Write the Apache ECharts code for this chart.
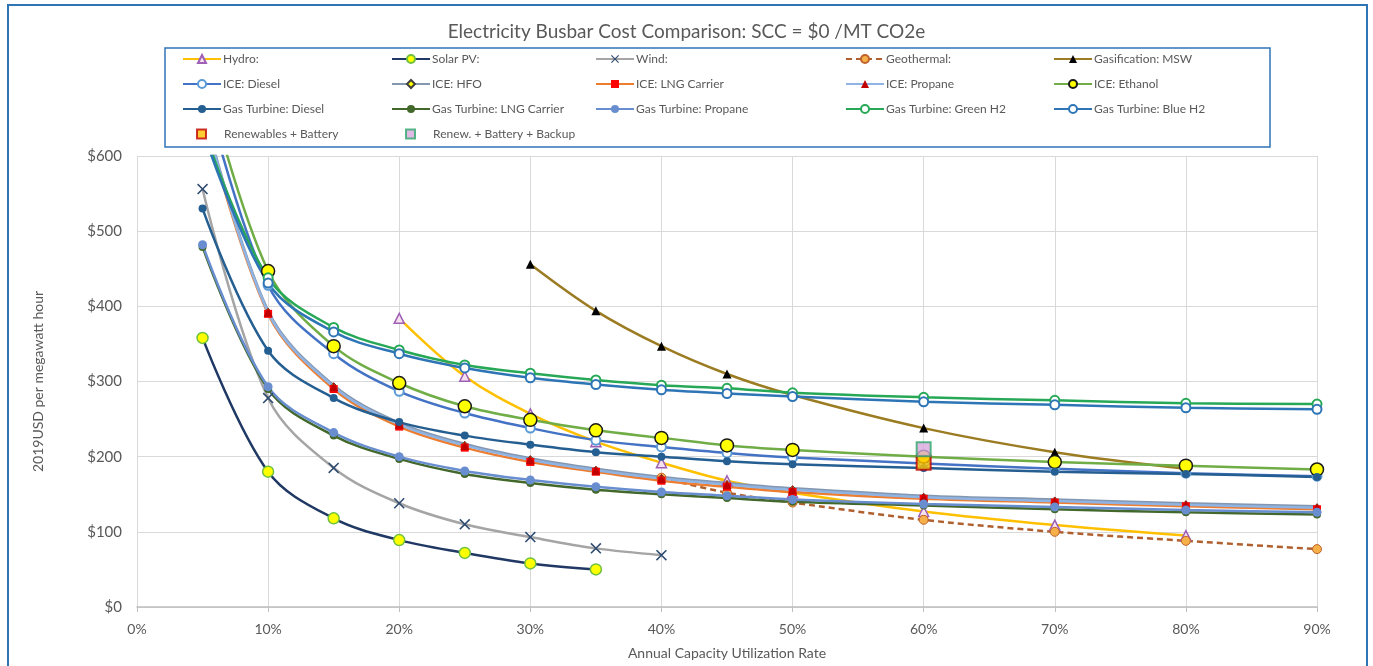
<!DOCTYPE html>
<html><head><meta charset="utf-8">
<script src="https://cdn.jsdelivr.net/npm/echarts@6/dist/echarts.min.js"></script>
<style>html,body{margin:0;padding:0;background:#fff}#c{width:1373px;height:666px}</style>
</head><body><div id="c"></div>
<script>
const xVals = [5,10,15,20,25,30,35,40,45,50,60,70,80,90];
const yTicks = [0,100,200,300,400,500,600];
const hydro       = [null,null,null,384,307,257,220,192,168,152,127,109,95,null];
const solarPV     = [358,180,118,89,72,58,50,null,null,null,null,null,null,null];
const wind        = [556,278,185,138,110,93,78,69,null,null,null,null,null,null];
const geothermal  = [null,null,null,null,null,null,null,172,152,139,116,100,88,77];
const gasifMSW    = [null,null,null,null,null,456,394,347,310,282,238,206,184,null];
const iceDiesel   = [700,428,337,287,258,238,222,213,205,199,191,184,178,174];
const iceHFO      = [668,394,295,245,217,198,184,173,165,158,148,143,138,134];
const iceLNG      = [660,390,290,240,212,193,180,168,160,153,144,139,134,130];
const icePropane  = [665,392,293,243,215,196,182,171,163,156,146,141,136,132];
const iceEthanol  = [720,447,347,298,267,249,235,225,215,209,200,193,188,183];
const gtDiesel    = [530,341,278,246,228,216,206,200,194,190,185,180,177,173];
const gtLNG       = [479,290,228,197,177,165,156,150,145,140,135,130,126,123];
const gtPropane   = [482,293,232,200,181,169,160,153,148,143,137,133,129,126];
const gtGreenH2   = [640,438,372,342,322,311,302,295,291,285,279,275,271,270];
const gtBlueH2    = [635,431,366,337,318,305,296,289,284,280,273,269,265,263];
const renewBattX = [60], renewBattY = [192];
const renewBackX = [60], renewBackY = [210];

const FONT = 'Lato';
const TXT = '#595959';
const X_SYM = 'path://M1,0 L5,4 L9,0 L10,1 L6,5 L10,9 L9,10 L5,6 L1,10 L0,9 L4,5 L0,1 Z';
const SQ = 'path://M0,0 L10,0 L10,10 L0,10 Z';

function pts(vals){ return xVals.map((x,i)=> vals[i]==null ? null : [x, vals[i]]).filter(d=>d); }
function line(name, vals, lineColor, sym, symSize, itemStyle, extra){
  return Object.assign({
    type:'line', name, data: pts(vals), smooth:0.35, clip:true,
    symbol: sym, symbolSize: symSize, showAllSymbol:true,
    lineStyle:{color:lineColor, width:2.5},
    itemStyle: itemStyle, emphasis:{disabled:true}
  }, extra||{});
}

const series = [
  line('Hydro:', hydro, '#FFC000', 'triangle', 10, {color:'#F6E1EE', borderColor:'#9E5FB5', borderWidth:1.5}),
  line('Solar PV:', solarPV, '#203864', 'circle', 11, {color:'#FFFF00', borderColor:'#70C040', borderWidth:1.5}),
  line('Wind:', wind, '#A5A5A5', X_SYM, 11, {color:'#2F4B70'}),
  line('Geothermal:', geothermal, '#C0622A', 'circle', 9, {color:'#F5B04A', borderColor:'#C0622A', borderWidth:1}, {lineStyle:{color:'#B0602E', width:2.5, type:[6,4]}}),
  line('Gasification: MSW', gasifMSW, '#9C7C22', 'triangle', 9, {color:'#000000'}),
  line('ICE: Diesel', iceDiesel, '#4472C4', 'emptyCircle', 9, {color:'#5B9BD5', borderWidth:1.5}),
  line('ICE: HFO', iceHFO, '#8497B0', 'diamond', 5, {color:'#FFFF00', borderColor:'#404040', borderWidth:1}),
  line('ICE: LNG Carrier', iceLNG, '#ED7D31', 'rect', 8, {color:'#FF0000'}),
  line('ICE: Propane', icePropane, '#8FB4E3', 'triangle', 9, {color:'#C00000'}),
  line('ICE: Ethanol', iceEthanol, '#70AD47', 'circle', 13, {color:'#FFFF00', borderColor:'#1A1A1A', borderWidth:1.5}),
  line('Gas Turbine: Diesel', gtDiesel, '#255E91', 'circle', 8, {color:'#255E91'}),
  line('Gas Turbine: LNG Carrier', gtLNG, '#43682B', 'circle', 8, {color:'#43682B'}),
  line('Gas Turbine: Propane', gtPropane, '#698ED0', 'circle', 9, {color:'#698ED0'}),
  line('Gas Turbine: Green H2', gtGreenH2, '#27A857', 'emptyCircle', 9, {color:'#27A857', borderWidth:1.5}),
  line('Gas Turbine: Blue H2', gtBlueH2, '#2E75B6', 'emptyCircle', 9, {color:'#2E75B6', borderWidth:1.5}),
  {type:'scatter', name:'Renewables + Battery', data: renewBattX.map((x,i)=>[x,renewBattY[i]]),
   symbol:'rect', symbolSize:14, itemStyle:{color:'#FFC000', borderColor:'#C00000', borderWidth:2}, z:5},
  {type:'scatter', name:'Renew. + Battery + Backup', data: renewBackX.map((x,i)=>[x,renewBackY[i]]),
   symbol:'rect', symbolSize:14, itemStyle:{color:'#D9A8DE', borderColor:'#2EA86A', borderWidth:2}, z:5}
];

// legend layout: 5 columns x 4 rows
const colLeft = [182, 391, 595, 845, 1053];
const rowMid = [59, 84, 109, 134];
const legendGrid = [
  ['Hydro:','Solar PV:','Wind:','Geothermal:','Gasification: MSW'],
  ['ICE: Diesel','ICE: HFO','ICE: LNG Carrier','ICE: Propane','ICE: Ethanol'],
  ['Gas Turbine: Diesel','Gas Turbine: LNG Carrier','Gas Turbine: Propane','Gas Turbine: Green H2','Gas Turbine: Blue H2'],
  ['Renewables + Battery','Renew. + Battery + Backup']
];
const legends = [];
legendGrid.forEach((row,r)=>row.forEach((name,c)=>{
  const isSq = r===3;
  legends.push({
    left: isSq ? colLeft[c]+14 : colLeft[c], top: rowMid[r]-8, padding:0,
    itemWidth: isSq ? 9 : 38, itemHeight: isSq ? 9 : 10,
    selectedMode:false, symbolKeepAspect:true,
    data:[isSq ? {name, icon:SQ} : name],
    textStyle:{fontFamily:FONT, fontSize:12, color:TXT, padding:[0,0,0,isSq ? 13 : -3], lineHeight:16}
  });
}));

const chart = echarts.init(document.getElementById('c'), null, {renderer:'canvas'});
chart.setOption({
  animation:false,
  backgroundColor:'#ffffff',
  title:{text:'Electricity Busbar Cost Comparison: SCC = $0 /MT CO2e', left:'center', top:17,
    textStyle:{fontFamily:FONT, fontSize:19, fontWeight:'normal', color:TXT}},
  legend: legends,
  grid:{left:137, right:56, top:156, bottom:59},
  xAxis:{type:'value', min:0, max:90, interval:10,
    name:'Annual Capacity Utilization Rate', nameLocation:'middle', nameGap:39,
    nameTextStyle:{fontFamily:FONT, fontSize:14, color:TXT},
    axisLine:{lineStyle:{color:'#BFBFBF', width:1.5}},
    axisTick:{show:true, length:5, lineStyle:{color:'#BFBFBF'}},
    axisLabel:{formatter:v=>v+'%', fontFamily:FONT, fontSize:14, color:TXT, margin:15},
    splitLine:{show:true, lineStyle:{color:'#D9D9D9', width:1}}},
  yAxis:{type:'value', min:yTicks[0], max:yTicks[yTicks.length-1], interval:100,
    name:'2019USD per megawatt hour', nameLocation:'middle', nameGap:92,
    nameTextStyle:{fontFamily:FONT, fontSize:14, color:TXT},
    axisLine:{show:false}, axisTick:{show:false},
    axisLabel:{formatter:v=>'$'+v, fontFamily:FONT, fontSize:15, color:TXT, margin:15},
    splitLine:{show:true, lineStyle:{color:'#D9D9D9', width:1}}},
  graphic:[
    {type:'rect', shape:{x:8, y:5, width:1359, height:700}, style:{fill:'none', stroke:'#2E75B6', lineWidth:2}, silent:true},
    {type:'rect', shape:{x:165, y:48, width:1105, height:99}, style:{fill:'none', stroke:'#2E75B6', lineWidth:1.5}, silent:true}
  ],
  series: series
});
</script></body></html>
